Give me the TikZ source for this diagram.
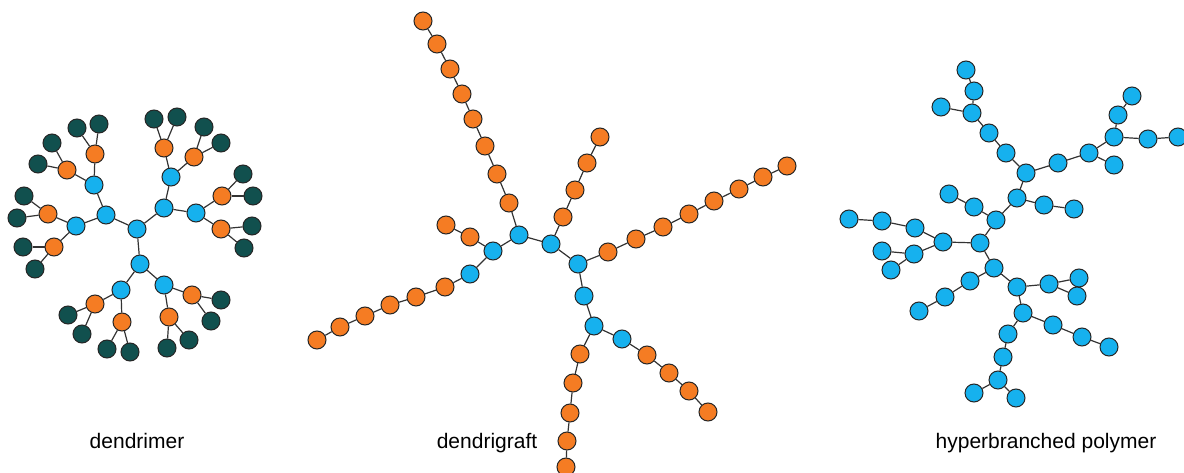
\documentclass[tikz,border=0pt]{standalone}
\usepackage{fontspec}
\setmainfont{Liberation Sans}
\usepackage{xcolor}

\definecolor{monoblue}{RGB}{22,177,238}
\definecolor{monoorange}{RGB}{245,124,35}
\definecolor{monoteal}{RGB}{17,80,78}

\tikzset{
  bead/.style={draw=black!85, circle, minimum size=18pt, inner sep=0pt, line width=1pt},
  blu/.style={bead, fill=monoblue},
  ora/.style={bead, fill=monoorange},
  grn/.style={bead, fill=monoteal},
  bond/.style={draw=black!80, line width=1.2pt},
  caption/.style={font=\fontsize{21}{25}\selectfont, anchor=base}
}

% orange arm: start node, name prefix, list of x/y
\newcommand{\armchain}[3]{%
  \foreach \x/\y [count=\i] in {#3} {
    \pgfmathtruncatemacro{\j}{\i-1}
    \node[ora] (#2\i) at (\x,\y) {};
    \ifnum\i=1 \draw[bond] (#1) -- (#2\i); \else \draw[bond] (#2\j) -- (#2\i); \fi
  }%
}

\begin{document}
\begin{tikzpicture}[x=1pt, y=-1pt]
  \useasboundingbox (0,0) rectangle (1184,473);

  % dendrimer
  \node[blu] (dc) at (137,229) {};
  \foreach \n/\x/\y in {db1/106/215, db2/164/208, db3/140/264} {
    \node[blu] (\n) at (\x,\y) {};
    \draw[bond] (dc) -- (\n);
  }
  \foreach \p/\n/\x/\y in {db1/db11/94/185, db1/db12/76/226, db2/db21/171/177,
      db2/db22/196/213, db3/db31/121/290, db3/db32/164/285} {
    \node[blu] (\n) at (\x,\y) {};
    \draw[bond] (\p) -- (\n);
  }
  \foreach \p/\n/\x/\y in {db11/do111/95/154, db11/do112/67/170, db12/do121/48/214,
      db12/do122/54/247, db21/do211/164/148, db21/do212/194/157,
      db22/do221/222/196, db22/do222/221/229, db31/do311/95/304,
      db31/do312/122/322, db32/do321/192/295, db32/do322/169/317} {
    \node[ora] (\n) at (\x,\y) {};
    \draw[bond] (\p) -- (\n);
  }
  \foreach \p/\xa/\ya/\xb/\yb in {do111/77/128/99/124, do112/52/143/38/164,
      do121/24/196/17/218, do122/23/247/35/269, do211/154/119/177/117,
      do212/204/127/221/143, do221/243/174/253/196, do222/252/226/244/248,
      do311/68/315/82/334, do312/107/349/130/352, do321/221/300/211/321,
      do322/167/348/189/340} {
    \node[grn] (\p l) at (\xa,\ya) {};
    \node[grn] (\p r) at (\xb,\yb) {};
    \draw[bond] (\p) -- (\p l);
    \draw[bond] (\p) -- (\p r);
  }

  % dendrigraft
  \foreach \n/\x/\y in {gc1/519/235, gc2/551/244, gc3/578/264, gb1/493/251,
      gb2/470/274, gb3/584/296, gb4/594/326, gb5/622/339}
    \node[blu] (\n) at (\x,\y) {};
  \foreach \a/\b in {gb1/gc1, gc1/gc2, gc2/gc3, gb1/gb2, gc3/gb3, gb3/gb4, gb4/gb5}
    \draw[bond] (\a) -- (\b);
  \armchain{gc1}{gt}{509/203, 497/174, 485/146, 473/119, 462/94, 450/69, 437/44, 423/21}
  \armchain{gb1}{gs}{470/237, 446/225}
  \armchain{gb2}{gl}{445/287, 416/297, 390/305, 365/316, 340/327, 317/340}
  \armchain{gc2}{gu}{563/217, 575/190, 587/163, 600/137}
  \armchain{gc3}{gr}{608/252, 636/239, 663/227, 689/214, 714/201, 739/189, 763/177, 787/166}
  \armchain{gb4}{gd}{580/354, 573/383, 570/413, 567/441, 566/467}
  \armchain{gb5}{gw}{647/355, 669/373, 689/391, 708/412}

  % hyperbranched polymer
  \foreach \n/\x/\y in {1/966/70, 2/974/91, 3/972/113, 4/941/107, 5/989/133,
      6/1006/153, 7/1026/173, 8/1058/163, 9/1089/153, 10/1114/137,
      11/1118/115, 12/1132/96, 13/1148/139, 14/1178/137, 15/1114/165,
      16/1017/198, 17/1044/205, 18/1074/209, 19/996/220, 20/974/207,
      21/949/194, 22/980/243, 23/943/242, 24/915/228, 25/882/221,
      26/849/219, 27/914/254, 28/882/251, 29/891/270, 30/994/268,
      31/970/281, 32/945/297, 33/919/311, 34/1017/287, 35/1049/284,
      36/1079/278, 37/1077/296, 38/1023/313, 39/1053/325, 40/1082/337,
      41/1109/347, 42/1008/334, 43/1003/357, 44/998/380, 45/974/393,
      46/1016/398}
    \node[blu] (h\n) at (\x,\y) {};
  \foreach \a/\b in {1/2, 2/3, 3/4, 3/5, 5/6, 6/7, 7/8, 8/9, 9/10, 10/11, 11/12,
      10/13, 13/14, 9/15, 7/16, 16/17, 17/18, 16/19, 19/20, 20/21, 19/22,
      22/23, 23/24, 24/25, 25/26, 23/27, 27/28, 27/29, 22/30, 30/31, 31/32,
      32/33, 30/34, 34/35, 35/36, 35/37, 34/38, 38/39, 39/40, 40/41, 38/42,
      42/43, 43/44, 44/45, 44/46}
    \draw[bond] (h\a) -- (h\b);

  % labels
  \node[caption] (dlabel) at (137,448) {dendrimer};
  \node[caption] (glabel) at (487,448) {dendrigraft};
  \node[caption] (hlabel) at (1046,448) {hyperbranched polymer};
\end{tikzpicture}
\end{document}
